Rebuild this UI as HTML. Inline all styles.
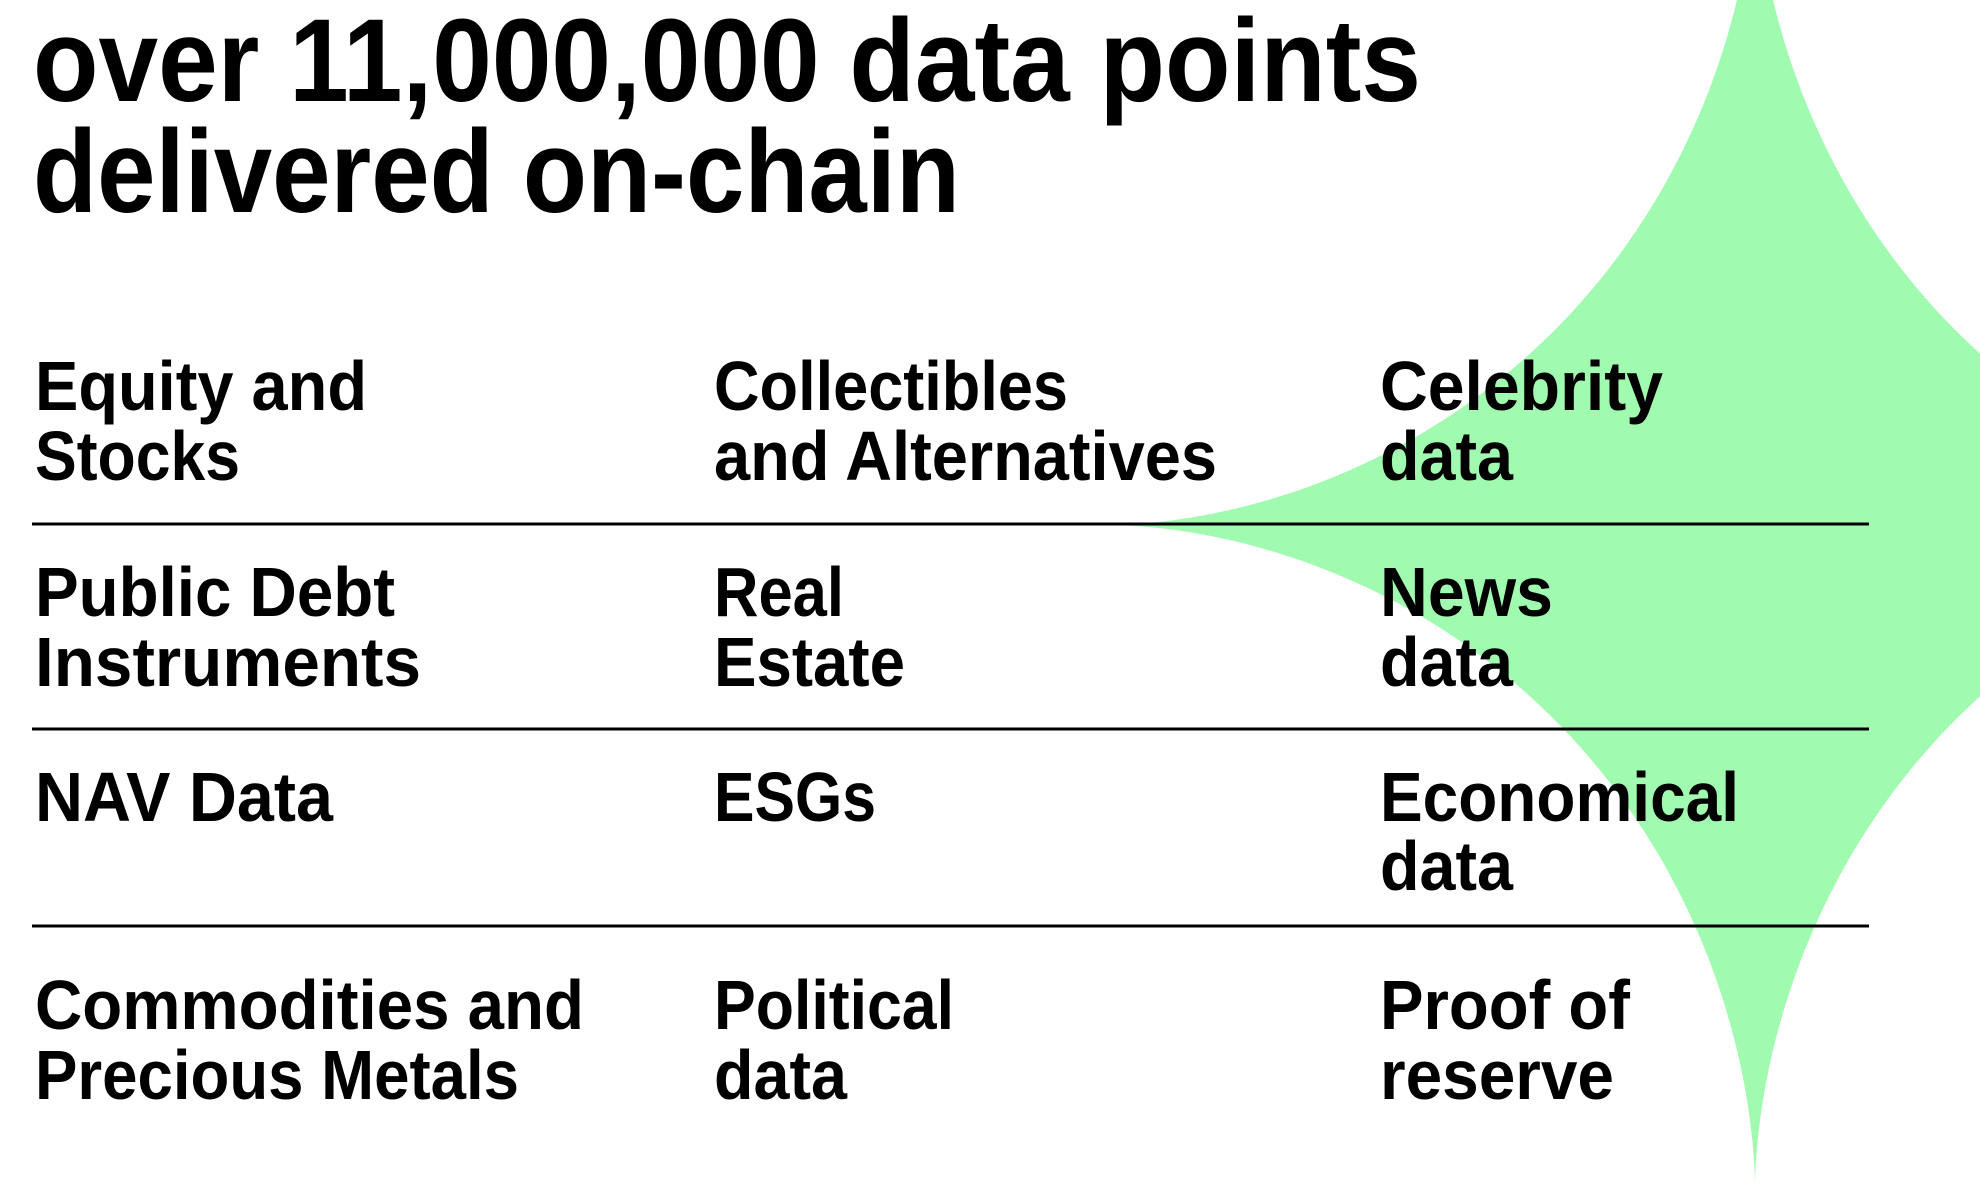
<!DOCTYPE html>
<html><head><meta charset="utf-8"><style>
html,body{margin:0;padding:0;background:#fff;width:1980px;height:1190px;overflow:hidden}
svg{display:block}
text{font-family:"Liberation Sans",sans-serif;font-weight:bold;fill:#000}
</style></head><body>
<svg width="1980" height="1190" viewBox="0 0 1980 1190" xmlns="http://www.w3.org/2000/svg">
<path id="star" fill="#a0fbb0" d="M2399 525 L2366 523 L2275 509 L2147 464 L2012 381 L1949 325 L1895 261 L1814 122 L1771 -10 L1757 -103 L1755 -137 L1753 -103 L1739 -10 L1696 122 L1615 261 L1561 325 L1498 381 L1363 464 L1235 509 L1144 523 L1111 525 L1144 527 L1235 541 L1363 586 L1498 669 L1561 725 L1615 789 L1696 928 L1739 1060 L1753 1153 L1755 1187 L1757 1153 L1771 1060 L1814 928 L1895 789 L1949 725 L2012 669 L2147 586 L2275 541 L2366 527 Z"/>
<script>
(function(){var cx=1755,cy=525,a=644,b=662,e=2/0.58,d="";
for(var i=0;i<=400;i++){var t=i/400*2*Math.PI,c=Math.cos(t),s=Math.sin(t);
var x=cx+a*(c<0?-1:1)*Math.pow(Math.abs(c),e),y=cy-b*(s<0?-1:1)*Math.pow(Math.abs(s),e);
d+=(i?"L":"M")+x.toFixed(1)+" "+y.toFixed(1);}
document.getElementById("star").setAttribute("d",d+"Z");})();
</script>
<g font-size="118">
<text x="33" y="101" textLength="1388" lengthAdjust="spacingAndGlyphs">over 11,000,000 data points</text>
<text x="33" y="212" textLength="927" lengthAdjust="spacingAndGlyphs">delivered on-chain</text>
</g>
<g stroke="#000" stroke-width="3">
<line x1="32" y1="524" x2="1869" y2="524"/>
<line x1="32" y1="729" x2="1869" y2="729"/>
<line x1="32" y1="926" x2="1869" y2="926"/>
</g>
<g font-size="70">
<text x="35" y="410" textLength="332" lengthAdjust="spacingAndGlyphs">Equity and</text>
<text x="35" y="480" textLength="205" lengthAdjust="spacingAndGlyphs">Stocks</text>
<text x="35" y="616" textLength="360" lengthAdjust="spacingAndGlyphs">Public Debt</text>
<text x="35" y="686" textLength="386" lengthAdjust="spacingAndGlyphs">Instruments</text>
<text x="35" y="821" textLength="298" lengthAdjust="spacingAndGlyphs">NAV Data</text>
<text x="35" y="1029" textLength="549" lengthAdjust="spacingAndGlyphs">Commodities and</text>
<text x="35" y="1099" textLength="484" lengthAdjust="spacingAndGlyphs">Precious Metals</text>

<text x="714" y="410" textLength="354" lengthAdjust="spacingAndGlyphs">Collectibles</text>
<text x="714" y="480" textLength="503" lengthAdjust="spacingAndGlyphs">and Alternatives</text>
<text x="714" y="616" textLength="130" lengthAdjust="spacingAndGlyphs">Real</text>
<text x="714" y="686" textLength="191" lengthAdjust="spacingAndGlyphs">Estate</text>
<text x="714" y="821" textLength="162" lengthAdjust="spacingAndGlyphs">ESGs</text>
<text x="714" y="1029" textLength="240" lengthAdjust="spacingAndGlyphs">Political</text>
<text x="714" y="1099" textLength="133" lengthAdjust="spacingAndGlyphs">data</text>

<text x="1380" y="410" textLength="283" lengthAdjust="spacingAndGlyphs">Celebrity</text>
<text x="1380" y="480" textLength="133" lengthAdjust="spacingAndGlyphs">data</text>
<text x="1380" y="616" textLength="173" lengthAdjust="spacingAndGlyphs">News</text>
<text x="1380" y="686" textLength="133" lengthAdjust="spacingAndGlyphs">data</text>
<text x="1380" y="821" textLength="359" lengthAdjust="spacingAndGlyphs">Economical</text>
<text x="1380" y="890" textLength="133" lengthAdjust="spacingAndGlyphs">data</text>
<text x="1380" y="1029" textLength="250" lengthAdjust="spacingAndGlyphs">Proof of</text>
<text x="1380" y="1099" textLength="234" lengthAdjust="spacingAndGlyphs">reserve</text>
</g>
</svg>
</body></html>
